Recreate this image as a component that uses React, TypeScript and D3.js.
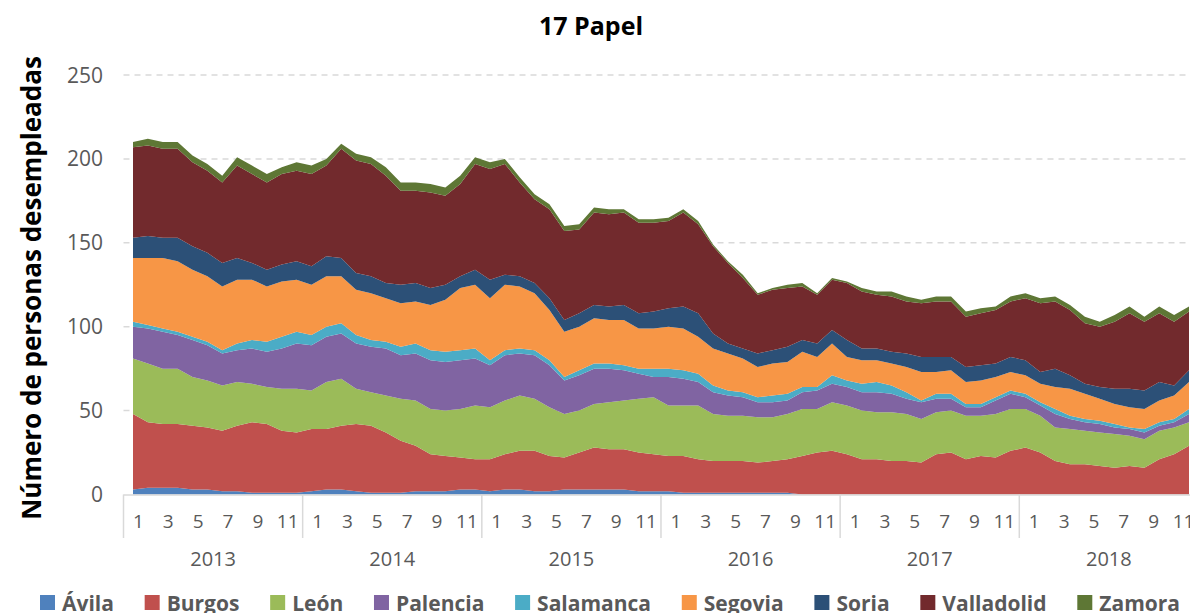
import React, { useEffect, useRef } from "react";
import * as d3 from "d3";

const years = ["2013", "2014", "2015", "2016", "2017", "2018"];
const monthTicks = [1, 3, 5, 7, 9, 11];
const provinces = ["Ávila", "Burgos", "León", "Palencia", "Salamanca", "Segovia", "Soria", "Valladolid", "Zamora"];
const colors = ["#4F81BD", "#C0504D", "#9BBB59", "#8064A2", "#4BACC6", "#F79646", "#2C5077", "#722A2D", "#5E7735"];

// monthly values, Jan 2013 .. Dec 2018
const avila = [3, 4, 4, 4, 3, 3, 2, 2, 1, 1, 1, 1, 2, 3, 3, 2, 1, 1, 1, 2, 2, 2, 3, 3, 2, 3, 3, 2, 2, 3, 3, 3, 3, 3, 2, 2, 2, 1, 1, 1, 1, 1, 1, 1, 1, 0, 0, 0, 0, 0, 0, 0, 0, 0, 0, 0, 0, 0, 0, 0, 0, 0, 0, 0, 0, 0, 0, 0, 0, 0, 0, 0];
const burgos = [45, 39, 38, 38, 38, 37, 36, 39, 42, 41, 37, 36, 37, 36, 38, 40, 40, 36, 31, 27, 22, 21, 19, 18, 19, 21, 23, 24, 21, 19, 22, 25, 24, 24, 23, 22, 21, 22, 20, 19, 19, 19, 18, 19, 20, 23, 25, 26, 24, 21, 21, 20, 20, 19, 24, 25, 21, 23, 22, 26, 28, 25, 20, 18, 18, 17, 16, 17, 16, 21, 24, 29];
const leon = [33, 35, 33, 33, 29, 28, 27, 26, 23, 22, 25, 26, 23, 28, 28, 21, 20, 22, 25, 27, 27, 27, 29, 32, 31, 32, 33, 31, 29, 26, 25, 26, 28, 29, 32, 34, 30, 30, 32, 28, 27, 27, 27, 26, 27, 28, 26, 29, 29, 29, 28, 29, 28, 26, 25, 25, 26, 24, 26, 25, 23, 22, 20, 21, 20, 20, 20, 18, 17, 17, 16, 14];
const palencia = [19, 21, 22, 20, 22, 21, 19, 19, 21, 21, 24, 27, 27, 27, 27, 27, 27, 28, 26, 28, 29, 29, 29, 28, 25, 27, 25, 26, 25, 20, 21, 21, 20, 18, 15, 12, 17, 16, 14, 13, 12, 11, 9, 9, 8, 10, 11, 11, 11, 11, 12, 11, 9, 10, 8, 7, 5, 5, 8, 9, 7, 6, 8, 6, 5, 5, 4, 4, 4, 3, 3, 5];
const salamanca = [3, 2, 2, 2, 2, 2, 2, 4, 5, 6, 7, 7, 6, 6, 6, 5, 4, 4, 5, 6, 6, 6, 6, 6, 3, 3, 3, 3, 3, 2, 3, 3, 3, 3, 3, 5, 5, 5, 5, 4, 3, 3, 3, 4, 4, 3, 2, 5, 4, 5, 6, 5, 4, 1, 3, 3, 2, 2, 2, 2, 2, 2, 3, 2, 2, 2, 2, 1, 2, 2, 2, 3];
const segovia = [38, 40, 42, 42, 40, 39, 38, 38, 36, 33, 33, 31, 30, 30, 28, 27, 28, 26, 26, 25, 27, 31, 37, 38, 37, 39, 37, 34, 30, 27, 26, 27, 26, 27, 24, 24, 25, 25, 22, 22, 22, 20, 18, 19, 19, 21, 18, 19, 14, 14, 13, 13, 15, 17, 13, 14, 13, 14, 12, 11, 11, 11, 13, 16, 15, 13, 12, 12, 12, 13, 14, 16];
const soria = [12, 13, 12, 14, 14, 14, 14, 13, 10, 10, 10, 11, 11, 12, 11, 10, 10, 9, 11, 11, 10, 9, 7, 9, 11, 6, 6, 6, 7, 7, 8, 8, 8, 9, 9, 10, 11, 13, 14, 9, 6, 6, 8, 8, 9, 7, 8, 8, 10, 7, 7, 7, 8, 9, 9, 8, 9, 9, 8, 9, 9, 7, 11, 8, 6, 7, 9, 11, 11, 11, 6, 7];
const valladolid = [54, 54, 53, 53, 50, 49, 48, 55, 53, 52, 54, 54, 55, 54, 65, 67, 67, 64, 56, 55, 57, 53, 55, 63, 66, 66, 56, 50, 53, 53, 50, 55, 55, 55, 54, 53, 52, 56, 53, 52, 48, 42, 35, 36, 35, 32, 29, 30, 34, 34, 32, 33, 31, 32, 33, 33, 30, 31, 32, 33, 37, 41, 40, 39, 36, 36, 40, 45, 41, 41, 38, 35];
const zamora = [3, 4, 4, 4, 4, 4, 4, 5, 5, 5, 4, 5, 5, 4, 3, 4, 4, 5, 5, 5, 5, 5, 5, 4, 4, 3, 3, 3, 3, 3, 3, 3, 3, 2, 2, 2, 2, 2, 2, 1, 1, 2, 1, 1, 2, 2, 1, 1, 1, 2, 2, 3, 3, 2, 3, 3, 3, 3, 2, 3, 3, 3, 3, 3, 4, 3, 4, 4, 3, 4, 4, 3];

const seriesValues = [avila, burgos, leon, palencia, salamanca, segovia, soria, valladolid, zamora];
const yTicks = [0, 50, 100, 150, 200, 250];

const W = 1190;
const H = 613;
const font = "'Open Sans', 'Noto Sans', sans-serif";

export default function App() {
  const legendRef = useRef<SVGGElement>(null);

  const months = years.flatMap((y) => d3.range(1, 13).map((m) => `${y}-${m}`));
  const rows = months.map((k, i) => {
    const r: any = { key: k };
    provinces.forEach((p, j) => (r[p] = seriesValues[j][i]));
    return r;
  });
  const stacked = d3.stack().keys(provinces)(rows);

  const xBand = d3.scaleBand().domain(months).range([123.5, 123.5 + 72 * 14.93]);
  const x = d3.scalePoint().domain(months).range([133, 1189]);
  const y = d3.scaleLinear().domain([0, 250]).range([494.5, 75]);

  const area = d3
    .area<any>()
    .x((d) => x(d.data.key) as number)
    .y0((d) => y(d[0]))
    .y1((d) => y(d[1]));

  useEffect(() => {
    const g = d3.select(legendRef.current);
    g.selectAll("*").remove();
    const items = g
      .selectAll("g")
      .data(provinces)
      .enter()
      .append("g");
    items
      .append("rect")
      .attr("width", 15)
      .attr("height", 15)
      .attr("y", 595)
      .attr("fill", (d, i) => colors[i]);
    items
      .append("text")
      .attr("x", 22)
      .attr("y", 611)
      .attr("font-family", font)
      .attr("font-weight", "bold")
      .attr("font-size", 21)
      .attr("fill", "#595959")
      .text((d) => d);
    const widths: number[] = [];
    items.each(function () {
      const t = d3.select(this).select("text").node() as SVGTextElement;
      widths.push(22 + t.getComputedTextLength());
    });
    const start = 40;
    const end = 1180;
    const gap = (end - start - d3.sum(widths)) / (widths.length - 1);
    let cx = start;
    items.attr("transform", (d, i) => {
      const t = `translate(${cx},0)`;
      cx += widths[i] + gap;
      return t;
    });
  }, []);

  const bw = xBand.bandwidth();

  return (
    <div>
      <style>{`body{margin:0}`}</style>
      <svg width={W} height={H} style={{ display: "block", background: "#fff" }}>
        <text x={591} y={35} textAnchor="middle" fontFamily={font} fontWeight="bold" fontSize={25} fill="#000">
          17 Papel
        </text>
        <text
          transform={`translate(41,288) rotate(-90)`}
          textAnchor="middle"
          fontFamily={font}
          fontWeight="bold"
          fontSize={26}
          fill="#000"
        >
          Número de personas desempleadas
        </text>

        {yTicks.slice(1).map((t) => (
          <line key={t} x1={123.5} x2={W} y1={y(t)} y2={y(t)} stroke="#D9D9D9" strokeWidth={1.5} strokeDasharray="6 5" />
        ))}
        {yTicks.map((t) => (
          <text key={t} x={103} y={y(t)} dy="0.36em" textAnchor="end" fontFamily={font} fontSize={21} fill="#595959">
            {t}
          </text>
        ))}

        {stacked.map((s, i) => (
          <path key={s.key} d={area(s as any) || ""} fill={colors[i]} />
        ))}

        <line x1={123.5} x2={W} y1={y(0) + 0.5} y2={y(0) + 0.5} stroke="#D9D9D9" strokeWidth={1.5} />
        {years.map((yr) => {
          const x0 = xBand(`${yr}-1`) as number;
          return (
            <g key={yr}>
              <line x1={x0} x2={x0} y1={y(0)} y2={538} stroke="#D9D9D9" strokeWidth={1.5} />
              {monthTicks.map((m) => (
                <text
                  key={m}
                  x={(xBand(`${yr}-${m}`) as number) + bw}
                  y={528}
                  textAnchor="middle"
                  fontFamily={font}
                  fontSize={19}
                  fill="#595959"
                >
                  {m}
                </text>
              ))}
              <text x={x0 + 6 * bw} y={566} textAnchor="middle" fontFamily={font} fontSize={20} fill="#595959">
                {yr}
              </text>
            </g>
          );
        })}

        <g ref={legendRef} />
      </svg>
    </div>
  );
}
